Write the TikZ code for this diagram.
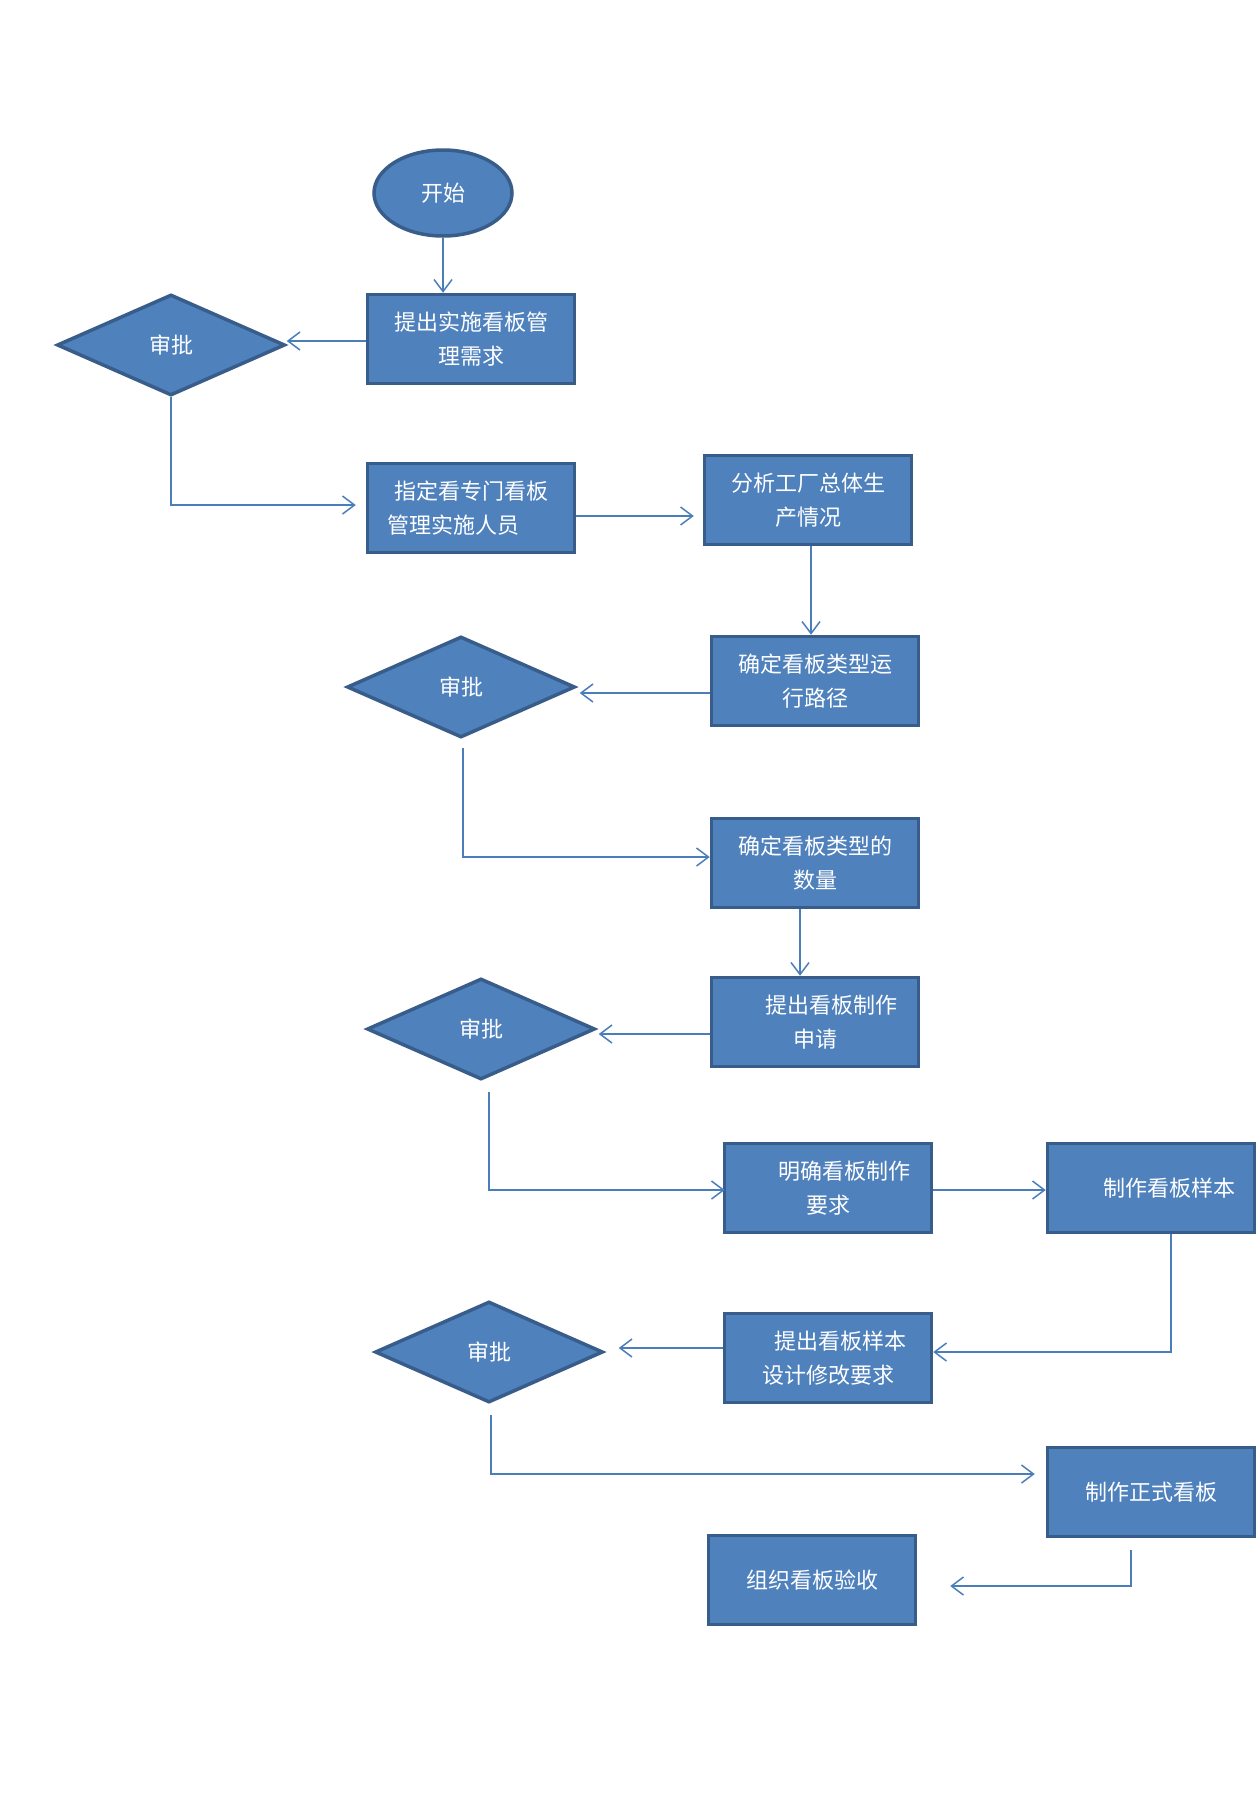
\documentclass[tikz,border=0pt]{standalone}
\usepackage{fontspec}
\newfontfamily\cjk{Noto Sans CJK SC}
\usetikzlibrary{arrows.meta}
\usetikzlibrary{shapes.geometric}
\definecolor{boxfill}{HTML}{4F81BD}
\definecolor{boxline}{HTML}{385D8A}
\definecolor{linkline}{HTML}{4A7EBB}

\begin{document}
\begin{tikzpicture}[x=1pt, y=-1pt,
                    every node/.style={font=\cjk\fontsize{22}{34}\selectfont, text=white},
                    task/.style={draw=boxline, fill=boxfill, line width=3.5pt,
                                 minimum width=207pt, minimum height=89pt,
                                 inner sep=0pt, align=center},
                    check/.style={diamond, draw=boxline, fill=boxfill, line width=3.5pt,
                                  minimum width=228pt, minimum height=101pt, inner sep=0pt},
                    terminal/.style={ellipse, draw=boxline, fill=boxfill, line width=3.5pt,
                                     minimum width=138pt, minimum height=86pt, inner sep=0pt},
                    link/.style={draw=linkline, line width=1.5pt,
                                 -{Straight Barb[length=12pt,width=18pt]}}]
    \useasboundingbox (0,0) rectangle (1258,1801);

    \node[terminal] (start) at (443,193) {开始};
    \node[task]  (ask)     at (471,339)  {提出实施看板管\\理需求};
    \node[check] (ok1)     at (171,345)  {审批};
    \node[task]  (staff)   at (471,508)  {指定看专门看板\\\hspace*{-36pt}管理实施人员};
    \node[task]  (survey)  at (808,500)  {分析工厂总体生\\产情况};
    \node[task]  (route)   at (815,681)  {确定看板类型运\\行路径};
    \node[check] (ok2)     at (461,687)  {审批};
    \node[task]  (count)   at (815,863)  {确定看板类型的\\数量};
    \node[task]  (apply)   at (815,1022) {\hspace*{32pt}提出看板制作\\申请};
    \node[check] (ok3)     at (481,1029) {审批};
    \node[task]  (spec)    at (828,1188) {\hspace*{32pt}明确看板制作\\要求};
    \node[task]  (sample)  at (1151,1188) {\hspace*{36pt}制作看板样本};
    \node[task]  (revise)  at (828,1358) {\hspace*{24pt}提出看板样本\\设计修改要求};
    \node[check] (ok4)     at (489,1352) {审批};
    \node[task]  (final)   at (1151,1492) {制作正式看板};
    \node[task]  (accept)  at (812,1580) {组织看板验收};

    \draw[link] (start.south) -- (start.south |- ask.north);
    \draw[link] ([yshift=-2pt]ask.west) -- ([yshift=-2pt]ask.west -| ok1.east);
    \draw[link] (ok1.south) |- ([xshift=-10pt,yshift=3pt]staff.west);
    \draw[link, shorten >=9pt] ([yshift=-8pt]staff.east) -- ([yshift=-8pt]staff.east -| survey.west);
    \draw[link] ([xshift=3pt]survey.south) -- ([xshift=3pt]survey.south |- route.north);
    \draw[link, shorten >=3pt] ([yshift=-12pt]route.west) -- ([yshift=-12pt]route.west -| ok2.east);
    \draw[link, shorten <=9pt] ([xshift=2pt]ok2.south) |- ([yshift=6pt]count.west);
    \draw[link] ([xshift=-15pt]count.south) -- ([xshift=-15pt]apply.north);
    \draw[link, shorten >=2pt] ([yshift=-12pt]apply.west) -- ([yshift=-12pt]apply.west -| ok3.east);
    \draw[link, shorten <=11pt] ([xshift=8pt]ok3.south) |- ([xshift=2pt,yshift=-2pt]spec.west);
    \draw[link] ([yshift=-2pt]spec.east) -- ([yshift=-2pt]sample.west);
    \draw[link] ([xshift=20pt]sample.south) |- ([yshift=6pt]revise.east);
    \draw[link, shorten >=14pt] ([yshift=10pt]revise.west) -- ([yshift=10pt]revise.west -| ok4.east);
    \draw[link, shorten <=11pt] ([xshift=2pt]ok4.south) |- ([xshift=-11pt,yshift=18pt]final.west);
    \draw[link, shorten <=12pt, shorten >=33pt] ([xshift=-20pt]final.south) |- ([yshift=-6pt]accept.east);
\end{tikzpicture}
\end{document}
